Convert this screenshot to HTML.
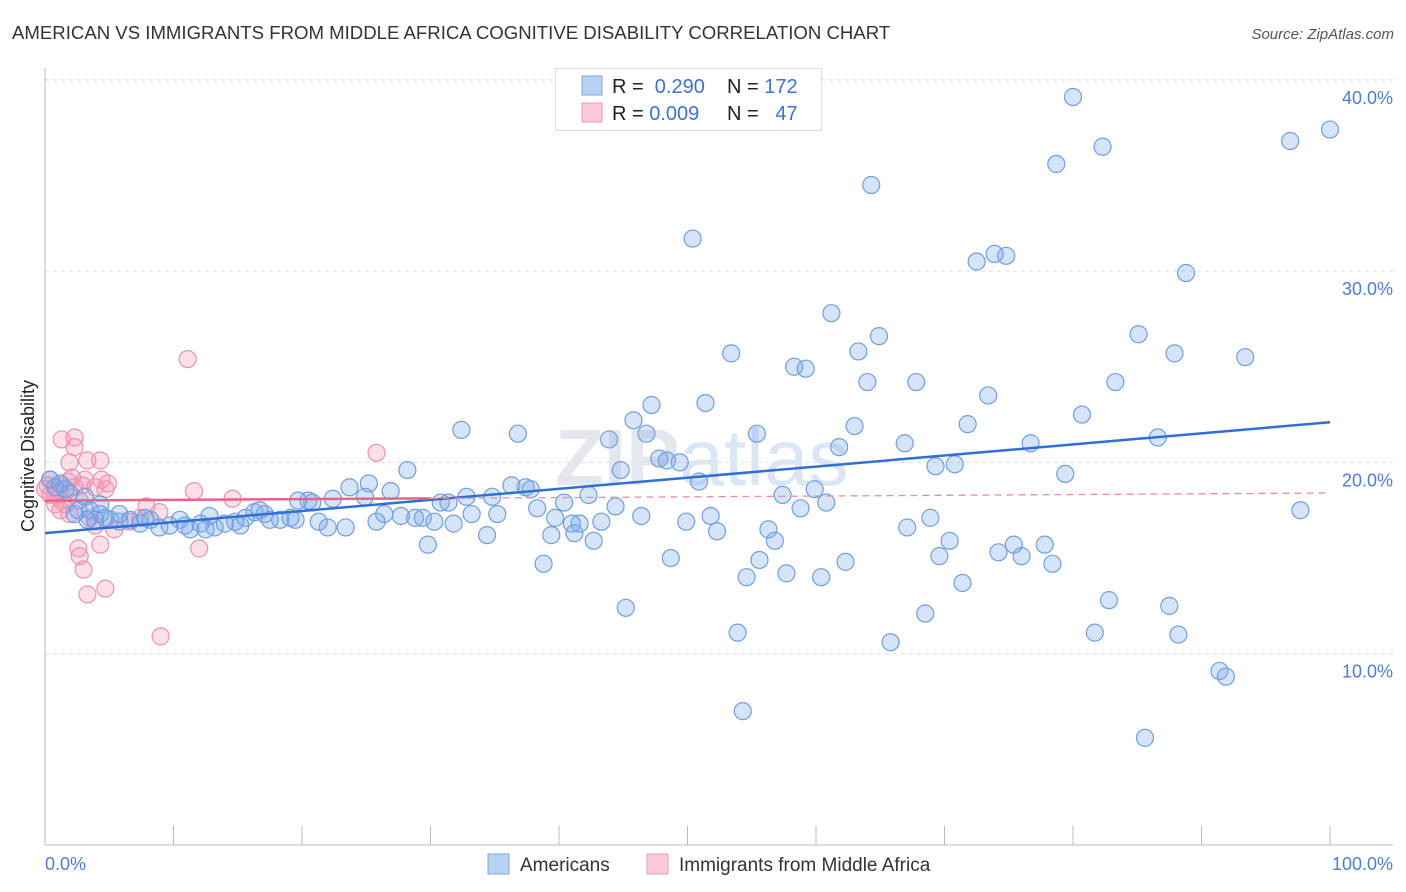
<!DOCTYPE html>
<html><head><meta charset="utf-8"><style>
body{margin:0;background:#fff;font-family:"Liberation Sans",sans-serif;}
svg{display:block}
</style></head><body>
<svg id="chart" width="1406" height="892">
<text x="12" y="39" font-size="18.6" fill="#333">AMERICAN VS IMMIGRANTS FROM MIDDLE AFRICA COGNITIVE DISABILITY CORRELATION CHART</text>
<text x="1394" y="39" font-size="15" fill="#555" font-style="italic" text-anchor="end">Source: ZipAtlas.com</text>
<g id="grid"></g>
<g id="axes"></g>
<text x="555" y="485" font-size="80" fill="#e4e8ee" font-weight="bold">ZIP<tspan font-weight="normal" fill="#dbe6f5">atlas</tspan></text>
<g id="pinkpts"></g>
<g id="bluepts"></g>
<g id="lines"></g>
<text transform="translate(34,456) rotate(-90)" font-size="18" fill="#222" text-anchor="middle">Cognitive Disability</text>
<text x="45" y="870" font-size="18" fill="#4a7fd4">0.0%</text>
<text x="1393" y="870" font-size="18" fill="#4a7fd4" text-anchor="end">100.0%</text>
<g>
<rect x="555.5" y="68.5" width="266" height="62" fill="#fff" stroke="#ddd"/>
<rect x="582" y="76" width="20" height="19" fill="#b8d2f4" stroke="#7aa6e6"/>
<rect x="582" y="103" width="20" height="19" fill="#fbc9d8" stroke="#ee9ab4"/>
<text x="612" y="93" font-size="20" fill="#222">R = <tspan fill="#3b73d1">&#160;0.290</tspan><tspan x="727">N = </tspan><tspan fill="#3b73d1">172</tspan></text>
<text x="612" y="120" font-size="20" fill="#222">R = <tspan fill="#3b73d1">0.009</tspan><tspan x="727">N = </tspan><tspan fill="#3b73d1">&#160;&#160;47</tspan></text>
</g>
<g>
<rect x="488" y="854" width="21" height="20" fill="#b8d2f4" stroke="#7aa6e6"/>
<text x="520" y="871" font-size="19" fill="#333">Americans</text>
<rect x="647" y="854" width="21" height="20" fill="#fbc9d8" stroke="#ee9ab4"/>
<text x="679" y="871" font-size="19" fill="#333">Immigrants from Middle Africa</text>
</g>
</svg>
<script>
const blueX=[80,100,96.9,82.3,78.7,64.3,50.4,72.5,73.9,74.8,88.8,61.2,64.9,85.1,63.3,53.4,87.9,93.4,58.3,59.2,64,67.8,83.3,73.4,47.2,51.4,80.7,45.8,71.8,63,32.4,36.8,46.8,55.4,86.6,66.9,76.7,61.8,43.9,47.8,48.4,49.4,70.8,69.3,44.8,28.2,79.4,50.9,25.2,23.7,36.3,37.4,37.8,59.9,57.4,42.3,32.8,34.8,22.4,20.5,20.8,19.7,24.9,26.9,30.8,31.4,40.4,60.8,58.8,44.4,38.3,46.4,35.2,33.2,26.4,27.7,28.8,29.4,25.8,51.8,49.9,68.9,97.7,39.7,41,41.6,43.3,31.8,30.3,67.1,52.3,56.3,56.8,22,23.4,21.3,19.5,34.4,39.4,41.2,42.7,29.8,70.4,75.4,77.8,69.6,74.2,76,62.3,55.6,48.7,38.8,78.4,54.6,57.7,60.4,71.4,45.2,82.8,87.5,68.5,53.9,81.7,88.2,65.8,91.4,91.9,54.3,85.6,0.4,0.8,1.9,3.1,1.2,2.6,3.5,4.3,3.9,5.1,5.8,6.6,7.4,8.2,8.9,9.7,10.5,11.3,12.1,12.8,13.2,14,14.8,15.6,16.3,17.1,18.3,19.1,4.3,5.8,3.3,2.3,1.6,4.7,7.8,10.9,12.5,15.2,17.5,16.7];
const blueY=[39.1,37.4,36.8,36.5,35.6,34.5,31.7,30.5,30.9,30.8,29.9,27.8,26.6,26.7,25.8,25.7,25.7,25.5,25,24.9,24.2,24.2,24.2,23.5,23,23.1,22.5,22.2,22,21.9,21.7,21.5,21.5,21.5,21.3,21,21,20.8,21.2,20.2,20.1,20,19.9,19.8,19.6,19.6,19.4,19,18.9,18.7,18.8,18.7,18.6,18.6,18.3,18.3,18.2,18.2,18.1,18,17.9,18,18.2,18.5,17.9,17.9,17.9,17.9,17.6,17.7,17.6,17.2,17.3,17.3,17.3,17.2,17.1,17.1,16.9,17.2,16.9,17.1,17.5,17.1,16.8,16.8,16.9,16.8,16.9,16.6,16.4,16.5,15.9,16.6,16.6,16.9,17,16.2,16.2,16.3,15.9,15.7,15.9,15.7,15.7,15.1,15.3,15.1,14.8,14.9,15,14.7,14.7,14,14.2,14,13.7,12.4,12.8,12.5,12.1,11.1,11.1,11,10.6,9.1,8.8,7,5.6,19.1,18.7,18.4,18.2,18.9,17.5,17.5,17.3,17,17,16.9,17,16.8,17,16.6,16.7,17,16.5,16.8,17.2,16.6,16.8,16.9,17.1,17.4,17.3,17,17.1,17.8,17.3,17,17.3,18.6,17.1,17.1,16.7,16.5,16.7,17,17.5];
const pinkX=[0.4,0.8,0.4,1.3,2.3,2.3,1.9,3.3,4.3,1,1.3,1.8,2.3,2.9,3.9,4.9,4.7,3.1,1.9,1.2,3.5,3.9,5.4,4.3,2.6,2.7,3,3.3,4.7,9,11.1,25.8,11.6,14.6,7.9,8.9,12,6.6,1.6,0.8,2.7,2.1,4.4,0,0.2,1.2,7.4];
const pinkY=[19.1,18.3,18.3,21.2,21.3,20.8,20,20.1,20.1,18.5,18,19,18.7,18.8,18.7,18.9,18.6,19.1,17.3,17.5,17.1,16.7,16.5,15.7,15.5,15.1,14.4,13.1,13.4,10.9,25.4,20.5,18.5,18.1,17.7,17.4,15.5,16.9,17.8,17.8,18,19.2,19.1,18.6,18.8,18.8,17.1];
const yTicks=[10,20,30,40];
const yTickLabels=["10.0%","20.0%","30.0%","40.0%"];
const xTicks=[0,10,20,30,40,50,60,70,80,90,100];
const blueTrend=[16.3,22.1];
const pinkTrend=[18.0,18.4];
const pinkSolidEnd=30;
const NS="http://www.w3.org/2000/svg";
const sx=v=>45+v*12.85;
const sy=v=>845-v*19.13;
function mk(tag,attrs,parent){const e=document.createElementNS(NS,tag);for(const k in attrs)e.setAttribute(k,attrs[k]);document.getElementById(parent).appendChild(e);return e;}
yTicks.forEach((t,i)=>{
 const l=mk('line',{x1:45,x2:1393,y1:sy(t),y2:sy(t),stroke:'#ddd','stroke-dasharray':'4,4'},'grid');
 
 
 const tx=mk('text',{x:1393,y:sy(t)+24,'font-size':18,fill:'#4a7fd4','text-anchor':'end'},'grid');
 tx.textContent=yTickLabels[i];
 
 
});
const topGrid=mk('line',{x1:45,x2:1393,y1:80,y2:80,stroke:'#ddd','stroke-dasharray':'4,4'},'grid');


const ya=mk('line',{x1:45,x2:45,y1:68,y2:845,stroke:'#bbb'},'axes');


const xa=mk('line',{x1:45,x2:1393,y1:845,y2:845,stroke:'#bbb'},'axes');


xTicks.forEach(t=>{
 const l=mk('line',{x1:sx(t),x2:sx(t),y1:826,y2:845,stroke:'#bbb'},'axes');
 
 
});
pinkX.forEach((x,i)=>{
 const c=mk('circle',{cx:sx(x),cy:sy(pinkY[i]),r:8.5,fill:'rgba(244,150,180,0.3)',stroke:'#ec93b0','stroke-width':1.2},'pinkpts');
 
 
});
blueX.forEach((x,i)=>{
 const c=mk('circle',{cx:sx(x),cy:sy(blueY[i]),r:8.5,fill:'rgba(120,165,235,0.3)',stroke:'#6f9fe3','stroke-width':1.2},'bluepts');
 
 
});
const bl=mk('line',{x1:sx(0),x2:sx(100),y1:sy(blueTrend[0]),y2:sy(blueTrend[1]),stroke:'#2f6fd6','stroke-width':2.5},'lines');


const pAt=v=>pinkTrend[0]+(pinkTrend[1]-pinkTrend[0])*v/100;
const pl=mk('line',{x1:sx(0),x2:sx(pinkSolidEnd),y1:sy(pAt(0)),y2:sy(pAt(pinkSolidEnd)),stroke:'#e8628c','stroke-width':2.5},'lines');


const pd=mk('line',{x1:sx(pinkSolidEnd),x2:sx(100),y1:sy(pAt(pinkSolidEnd)),y2:sy(pAt(100)),stroke:'#eb8aa8','stroke-width':1.3,'stroke-dasharray':'7,5'},'lines');


</script>
</body></html>
